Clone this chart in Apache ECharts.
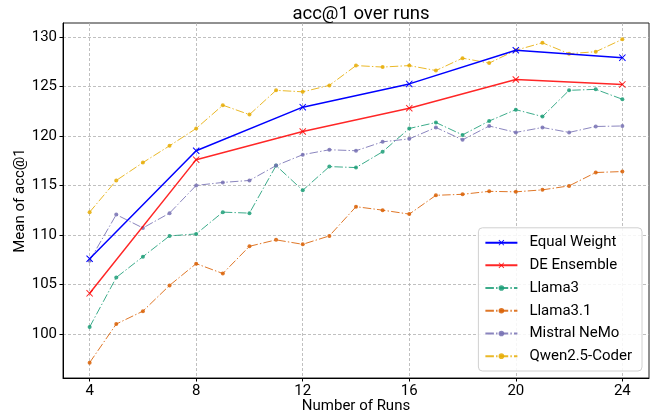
<!DOCTYPE html>
<html>
<head>
<meta charset="utf-8">
<script src="https://cdn.jsdelivr.net/npm/echarts@6/dist/echarts.min.js"></script>
<style>
  html, body { margin: 0; padding: 0; background: #fff; }
  #chart { width: 654px; height: 419px; }
</style>
</head>
<body>
<div id="chart"></div>
<script>
// Runs sampled for the ensembles and for the single models
const ensembleRuns = [4, 8, 12, 16, 20, 24];
const modelRuns = [4, 5, 6, 7, 8, 9, 10, 11, 12, 13, 14, 15, 16, 17, 18, 19, 20, 21, 22, 23, 24];

// Mean acc@1 per run count
const equalWeight = [107.6, 118.5, 122.9, 125.25, 128.65, 127.9];
const deEnsemble  = [104.1, 117.6, 120.45, 122.8, 125.7, 125.2];
const llama3      = [100.7, 105.7, 107.8, 109.9, 110.1, 112.3, 112.2, 117.0, 114.5, 116.9, 116.8, 118.4, 120.75, 121.35, 120.1, 121.5, 122.65, 121.95, 124.6, 124.7, 123.7];
const llama31     = [97.1, 101.0, 102.3, 104.9, 107.1, 106.1, 108.85, 109.5, 109.05, 109.9, 112.85, 112.5, 112.1, 114.0, 114.1, 114.4, 114.35, 114.55, 114.95, 116.3, 116.4];
const mistralNemo = [107.4, 112.05, 110.7, 112.2, 115.0, 115.3, 115.5, 117.0, 118.1, 118.6, 118.5, 119.4, 119.7, 120.85, 119.6, 121.0, 120.35, 120.85, 120.35, 120.95, 121.0];
const qwenCoder   = [112.3, 115.5, 117.3, 119.0, 120.75, 123.1, 122.15, 124.6, 124.45, 125.1, 127.1, 126.95, 127.1, 126.6, 127.85, 127.35, 128.65, 129.4, 128.3, 128.5, 129.75];

const xTicks = [4, 8, 12, 16, 20, 24];
const yTicks = [100, 105, 110, 115, 120, 125, 130];

const pairs = (xs, ys) => xs.map((x, i) => [x, ys[i]]);

const FONT = 'Roboto';
const CROSS = 'path://M1,0 L5,4 L9,0 L10,1 L6,5 L10,9 L9,10 L5,6 L1,10 L0,9 L4,5 L0,1 Z';
const DASHDOT = [8.5, 2.2, 1.4, 2.2];

function ensemble(name, color, data, opacity) {
  return {
    name, type: 'line', data,
    symbol: CROSS, symbolSize: 7, showSymbol: true,
    lineStyle: { color, width: 1.5, opacity },
    itemStyle: { color, opacity },
    emphasis: { disabled: true },
    animation: false, z: 3
  };
}

function model(name, color, data) {
  return {
    name, type: 'line', data,
    symbol: 'circle', symbolSize: 4, showSymbol: true,
    lineStyle: { color, width: 1, type: DASHDOT, opacity: 0.85 },
    itemStyle: { color, opacity: 0.85 },
    emphasis: { disabled: true },
    animation: false, z: 2
  };
}

const chart = echarts.init(document.getElementById('chart'), null, { renderer: 'canvas' });

chart.setOption({
  animation: false,
  backgroundColor: '#fff',
  textStyle: { fontFamily: FONT },
  title: {
    text: 'acc@1 over runs',
    left: 356, top: 0, textAlign: 'center',
    textStyle: { fontFamily: FONT, fontSize: 18.5, fontWeight: 'normal', color: '#000' }
  },
  grid: {
    left: 63, right: 5, top: 23, bottom: 41,
    show: true, borderColor: '#222', borderWidth: 1, backgroundColor: 'transparent'
  },
  legend: {
    orient: 'vertical', right: 12, bottom: 48,
    itemWidth: 32, itemHeight: 7, itemGap: 5,
    padding: [6, 10, 6, 6],
    backgroundColor: 'rgba(255,255,255,0.85)',
    borderColor: '#d0d0d0', borderWidth: 1, borderRadius: 4,
    textStyle: { fontFamily: FONT, fontSize: 15, color: '#000', padding: [0, 0, 0, 7], lineHeight: 17.7 },
    data: ['Equal Weight', 'DE Ensemble', 'Llama3', 'Llama3.1', 'Mistral NeMo', 'Qwen2.5-Coder']
  },
  xAxis: {
    type: 'value', min: 3, max: 25,
    name: 'Number of Runs', nameLocation: 'middle', nameGap: 21, nameMoveOverlap: false,
    nameTextStyle: { fontFamily: FONT, fontSize: 15, color: '#000', verticalAlign: 'top' },
    axisLine: { show: true, lineStyle: { color: '#000', width: 1 } },
    axisTick: { show: true, customValues: xTicks, length: 3.5, lineStyle: { color: '#000' } },
    axisLabel: { customValues: xTicks, margin: 6, fontFamily: FONT, fontSize: 15, color: '#000' },
    splitLine: { show: true, lineStyle: { color: '#b0b0b0', width: 0.8, type: [3, 2] } }
  },
  yAxis: {
    type: 'value', min: 95.55, max: 131.4,
    name: 'Mean of acc@1', nameLocation: 'middle', nameGap: 35, nameMoveOverlap: false,
    nameTextStyle: { fontFamily: FONT, fontSize: 15, color: '#000' },
    axisLine: { show: true, lineStyle: { color: '#000', width: 1 } },
    axisTick: { show: true, customValues: yTicks, length: 3.5, lineStyle: { color: '#000' } },
    axisLabel: { customValues: yTicks, margin: 6, fontFamily: FONT, fontSize: 15, color: '#000' },
    splitLine: { show: true, lineStyle: { color: '#b0b0b0', width: 0.8, type: [3, 2] } }
  },
  series: [
    model('Llama3', '#1b9e77', pairs(modelRuns, llama3)),
    model('Llama3.1', '#d95f02', pairs(modelRuns, llama31)),
    model('Mistral NeMo', '#7570b3', pairs(modelRuns, mistralNemo)),
    model('Qwen2.5-Coder', '#e6ab02', pairs(modelRuns, qwenCoder)),
    ensemble('Equal Weight', '#0000ff', pairs(ensembleRuns, equalWeight), 1),
    ensemble('DE Ensemble', '#ff0000', pairs(ensembleRuns, deEnsemble), 0.85)
  ]
});
</script>
</body>
</html>
